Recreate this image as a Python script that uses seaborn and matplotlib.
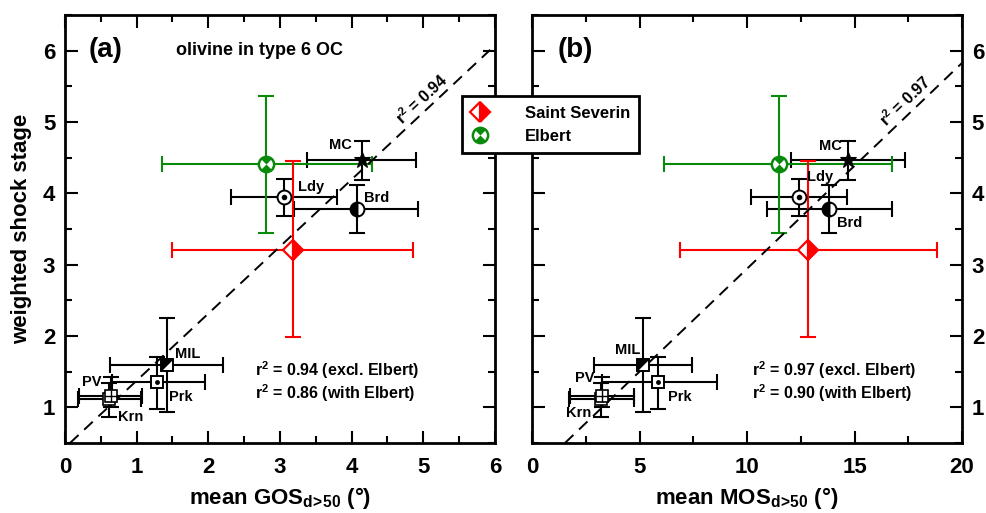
#!/usr/bin/env python3
"""Weighted shock stage vs. mean GOS / MOS for olivine in type 6 OC."""

import matplotlib

matplotlib.use("Agg")
import matplotlib.pyplot as plt
import numpy as np
import seaborn as sns
from matplotlib.lines import Line2D
from matplotlib.path import Path
from matplotlib.ticker import MultipleLocator

# ---- data ----
names = ["Saint Severin", "Elbert", "MC", "Ldy", "Brd", "MIL", "Prk", "PV", "Krn"]

shock = [3.21, 4.41, 4.46, 3.95, 3.78, 1.60, 1.35, 1.16, 1.12]
shock_lo = [1.98, 3.45, 4.19, 3.68, 3.45, 0.94, 0.98, 1.00, 0.86]
shock_hi = [4.45, 5.36, 4.74, 4.20, 4.11, 2.25, 1.71, 1.42, 1.34]

gos = [3.18, 2.81, 4.15, 3.06, 4.07, 1.42, 1.28, 0.64, 0.62]
gos_lo = [1.50, 1.36, 3.38, 2.32, 3.20, 0.63, 0.65, 0.20, 0.18]
gos_hi = [4.85, 4.29, 4.90, 3.80, 4.93, 2.20, 1.96, 1.08, 1.06]

mos = [12.82, 11.49, 14.71, 12.42, 13.83, 5.18, 5.87, 3.24, 3.20]
mos_lo = [6.88, 6.15, 12.05, 10.17, 10.94, 2.88, 3.24, 1.77, 1.72]
mos_hi = [18.84, 16.76, 17.35, 14.64, 16.76, 7.43, 8.59, 4.76, 4.72]

# regression fits (intercept, slope)
gos_fit = (0.434, 0.94)
mos_fit = (0.058, 0.2885)

gos_r2 = ["0.94", "0.94", "0.86"]
mos_r2 = ["0.97", "0.97", "0.90"]

RED = "#ff0000"
GREEN = "#0a8a0a"

HOURGLASS = Path.make_compound_path(Path.wedge(45, 135), Path.wedge(225, 315))
UPPER_LEFT = Path([(-1, 1), (1, 1), (-1, -1), (-1, 1)], closed=True)


def _marker_layers(name):
    """Return a list of plot kwargs that together make the symbol for one meteorite."""
    if name == "Saint Severin":
        return [dict(marker="D", ms=10, color=RED, mec=RED, mew=1.6,
                     fillstyle="right", markerfacecoloralt="white")]
    if name == "Elbert":
        return [dict(marker="o", ms=11, mfc="white", mec=GREEN, mew=1.8),
                dict(marker=HOURGLASS, ms=11, mfc=GREEN, mec=GREEN, mew=0)]
    if name == "MC":
        return [dict(marker="*", ms=12, mfc="black", mec="black", mew=0.8)]
    if name == "Ldy":
        return [dict(marker="o", ms=10, mfc="white", mec="black", mew=1.4),
                dict(marker="o", ms=4, mfc="black", mec="black", mew=0)]
    if name == "Brd":
        return [dict(marker="o", ms=10, color="black", mec="black", mew=1.4,
                     fillstyle="left", markerfacecoloralt="white")]
    if name == "MIL":
        return [dict(marker="s", ms=9, mfc="white", mec="black", mew=1.4),
                dict(marker=UPPER_LEFT, ms=9, mfc="black", mec="black", mew=0)]
    if name == "Prk":
        return [dict(marker="s", ms=9, mfc="white", mec="black", mew=1.4),
                dict(marker="o", ms=3.5, mfc="black", mec="black", mew=0)]
    if name == "PV":
        return [dict(marker="s", ms=8, mfc="white", mec="black", mew=1.2),
                dict(marker="+", ms=8, mec="black", mew=1.0)]
    return [dict(marker="s", ms=8, mfc="white", mec="black", mew=1.2)]


def _color(name):
    return {"Saint Severin": RED, "Elbert": GREEN}.get(name, "black")


def _draw_panel(ax, xs, x_lo, x_hi, fit, xlim, xmajor, xminor, label_offsets):
    order = ["Krn", "PV", "Prk", "MIL", "Brd", "Ldy", "MC", "Elbert", "Saint Severin"]
    for name in order:
        i = names.index(name)
        ax.errorbar(
            xs[i], shock[i],
            xerr=[[xs[i] - x_lo[i]], [x_hi[i] - xs[i]]],
            yerr=[[shock[i] - shock_lo[i]], [shock_hi[i] - shock[i]]],
            fmt="none", ecolor=_color(name), elinewidth=1.5,
            capsize=6, capthick=1.5, zorder=2,
        )
    for name in order:
        i = names.index(name)
        for layer in _marker_layers(name):
            ax.plot(xs[i], shock[i], linestyle="none", zorder=4, **layer)

    intercept, slope = fit
    ax.axline((0, intercept), slope=slope, color="black", linestyle=(0, (6, 4)),
              linewidth=1.4, zorder=3)

    for name, (dx, dy) in label_offsets.items():
        i = names.index(name)
        ax.annotate(name, (xs[i], shock[i]), xytext=(dx, dy), textcoords="offset pixels",
                    ha="center", va="center", fontsize=10.5, fontweight="bold", zorder=5)

    ax.set_xlim(*xlim)
    ax.set_ylim(0.5, 6.5)
    ax.xaxis.set_major_locator(MultipleLocator(xmajor))
    ax.xaxis.set_minor_locator(MultipleLocator(xminor))
    ax.yaxis.set_major_locator(MultipleLocator(1))
    ax.yaxis.set_minor_locator(MultipleLocator(0.5))
    ax.tick_params(which="both", direction="in", top=True, right=True, width=1.5,
                   labelsize=16, colors="black")
    ax.tick_params(axis="x", pad=10)
    ax.tick_params(axis="y", pad=7)
    ax.tick_params(which="major", length=9)
    ax.tick_params(which="minor", length=5)
    for sp in ax.spines.values():
        sp.set_linewidth(2)
        sp.set_color("black")
    ax.grid(False)


def main():
    sns.set_theme(style="ticks")
    plt.rcParams["font.family"] = ["Liberation Sans", "DejaVu Sans"]
    plt.rcParams["font.weight"] = "bold"
    plt.rcParams["axes.labelweight"] = "bold"
    plt.rcParams["text.color"] = "black"
    plt.rcParams["axes.labelcolor"] = "black"
    plt.rcParams["mathtext.fontset"] = "custom"
    plt.rcParams["mathtext.rm"] = "Liberation Sans:bold"
    plt.rcParams["mathtext.it"] = "Liberation Sans:bold"
    plt.rcParams["mathtext.bf"] = "Liberation Sans:bold"
    plt.rcParams["mathtext.default"] = "rm"

    fig = plt.figure(figsize=(9.86, 5.13), dpi=100)
    ax_a = fig.add_axes([0.0659, 0.1365, 0.4361, 0.8343])
    ax_b = fig.add_axes([0.5396, 0.1365, 0.4361, 0.8343])

    _draw_panel(
        ax_a, gos, gos_lo, gos_hi, gos_fit, (0, 6), 1, 0.5,
        {"MC": (-22, 15), "Ldy": (27, 10), "Brd": (20, 11), "MIL": (21, 11),
         "Prk": (24, -15), "PV": (-19, 14), "Krn": (21, -18)},
    )
    _draw_panel(
        ax_b, mos, mos_lo, mos_hi, mos_fit, (0, 20), 5, 2.5,
        {"MC": (-18, 14), "Ldy": (21, 20), "Brd": (20, -14), "MIL": (-16, 15),
         "Prk": (22, -15), "PV": (-17, 18), "Krn": (-22, -14)},
    )

    ax_a.tick_params(labelleft=True, labelright=False)
    ax_b.tick_params(labelleft=False, labelright=True)

    ax_a.set_xlabel(r"mean GOS$_{d\!>\!50}$ (°)", fontsize=16, labelpad=5)
    ax_b.set_xlabel(r"mean MOS$_{d\!>\!50}$ (°)", fontsize=16, labelpad=5)
    ax_a.set_ylabel("weighted shock stage", fontsize=16, labelpad=8)

    ax_a.text(0.095, 0.918, "(a)", transform=ax_a.transAxes, ha="center", va="center",
              fontsize=20, fontweight="bold")
    ax_a.text(0.453, 0.918, "olivine in type 6 OC", transform=ax_a.transAxes,
              ha="center", va="center", fontsize=13, fontweight="bold")
    ax_b.text(0.10, 0.918, "(b)", transform=ax_b.transAxes, ha="center", va="center",
              fontsize=20, fontweight="bold")

    for ax, r2, fit, x0, lx, ly in ((ax_a, gos_r2, gos_fit, 0.442, 4.98, 5.33),
                                    (ax_b, mos_r2, mos_fit, 0.512, 17.35, 5.29)):
        ax.text(x0, 0.17, f"r$^2$ = {r2[1]} (excl. Elbert)", transform=ax.transAxes,
                ha="left", va="center", fontsize=11.5, fontweight="bold")
        ax.text(x0, 0.117, f"r$^2$ = {r2[2]} (with Elbert)", transform=ax.transAxes,
                ha="left", va="center", fontsize=11.5, fontweight="bold")
        ax.text(lx, ly, f"r$^2$ = {r2[0]}", rotation=np.degrees(np.arctan(fit[1])),
                transform_rotates_text=True, rotation_mode="anchor",
                ha="center", va="center", fontsize=11.5, fontweight="bold")

    handles = [
        tuple(Line2D([], [], linestyle="none", **kw) for kw in _marker_layers("Saint Severin")),
        tuple(Line2D([], [], linestyle="none", **kw) for kw in _marker_layers("Elbert")),
    ]
    leg = fig.legend(
        handles, ["Saint Severin", "Elbert"], loc="upper left",
        bbox_to_anchor=(0.469, 0.812), frameon=True, fancybox=False, framealpha=1,
        edgecolor="black", prop={"size": 12, "weight": "bold"},
        handlelength=1.0, handletextpad=2.2, borderpad=0.55, labelspacing=0.5,
        borderaxespad=0,
    )
    leg.get_frame().set_linewidth(2)

    fig.savefig("out.png", dpi=100)
    plt.close(fig)


if __name__ == "__main__":
    main()
